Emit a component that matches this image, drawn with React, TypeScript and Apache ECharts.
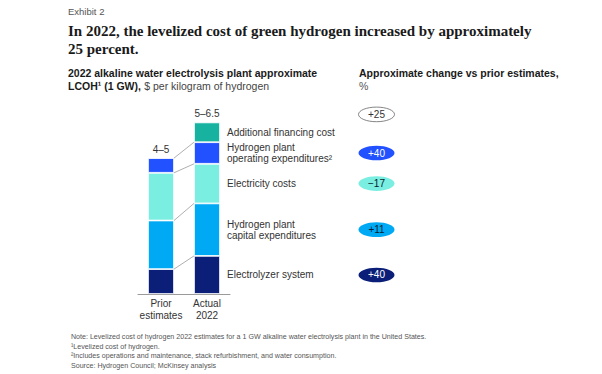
import React, { useEffect, useRef } from "react";
import * as echarts from "echarts";

const categories = ["Prior\nestimates", "Actual\n2022"];
const segmentNames = [
  "Electrolyzer system",
  "Hydrogen plant\ncapital expenditures",
  "Electricity costs",
  "Hydrogen plant\noperating expenditures²",
  "Additional financing cost",
];
const priorValues: (number | null)[] = [0.83, 1.62, 1.59, 0.49, null];
const actualValues = [1.27, 1.75, 1.32, 0.72, 0.66];
const totalLabels = ["4–5", "5–6.5"];
const segmentChanges = ["+40", "+11", "−17", "+40"];
const totalChange = "+25";

const segColors = ["#0b1f78", "#00a9f4", "#7aeee1", "#2251ff", "#17b3a0"];
const pillText = ["#ffffff", "#051c2c", "#051c2c", "#ffffff"];

const SANS = "Liberation Sans, Arial, sans-serif";
const SERIF = "Liberation Serif, Times New Roman, serif";
const BAR_W = 26;

function cum(vals: (number | null)[], k: number) {
  let s = 0;
  for (let i = 0; i < k; i++) s += vals[i] || 0;
  return s;
}

export default function App() {
  const ref = useRef<HTMLDivElement>(null);
  useEffect(() => {
    if (!ref.current) return;
    const chart = echarts.init(ref.current, null, { renderer: "svg" });

    const barSeries = segmentNames.map((name, i) => ({
      type: "bar",
      name,
      stack: "lcoh",
      barWidth: BAR_W,
      itemStyle: { color: segColors[i], borderColor: "#ffffff", borderWidth: 0.8 },
      data: [
        priorValues[i],
        {
          value: actualValues[i],
          label: {
            show: true,
            position: "right",
            distance: 7,
            formatter: name,
            fontSize: 10,
            lineHeight: 11,
            color: "#333333",
            fontFamily: SANS,
          },
        },
      ],
    }));

    const connectors = [1, 2, 3, 4].map((k) => [cum(priorValues, k), cum(actualValues, k)]);
    const totals = [cum(priorValues, 5), cum(actualValues, 5)];
    const pillData = segmentChanges.map((c, i) => [
      cum(actualValues, i) + actualValues[i] / 2,
      i,
    ]);
    pillData.push([totals[1], -1]);

    const option: any = {
      animation: false,
      grid: { left: 138, width: 92, top: 114, height: 180 },
      xAxis: {
        type: "category",
        data: categories,
        axisLine: { lineStyle: { color: "#9a9a9a", width: 1 } },
        axisTick: { show: false },
        axisLabel: { interval: 0, fontSize: 10, lineHeight: 11.5, color: "#333333", margin: 4, fontFamily: SANS },
      },
      yAxis: { type: "value", min: 0, max: 6, show: false, splitLine: { show: false } },
      graphic: [
        { type: "text", left: 68, top: 6, style: { text: "Exhibit 2", fontSize: 9.5, fill: "#555555", fontFamily: SANS } },
        {
          type: "text",
          left: 68,
          top: 22,
          style: {
            text: "In 2022, the levelized cost of green hydrogen increased by approximately\n25 percent.",
            fontSize: 15,
            lineHeight: 18,
            fontWeight: "bold",
            fill: "#1a1a1a",
            fontFamily: SERIF,
          },
        },
        {
          type: "text",
          left: 68,
          top: 67,
          style: {
            text: "{b|2022 alkaline water electrolysis plant approximate}\n{b|LCOH¹ (1 GW),} {n|$ per kilogram of hydrogen}",
            rich: {
              b: { fontSize: 10.5, fontWeight: "bold", fill: "#1a1a1a", fontFamily: SANS, lineHeight: 13.5 },
              n: { fontSize: 10.5, fill: "#444444", fontFamily: SANS, lineHeight: 13.5 },
            },
          },
        },
        {
          type: "text",
          left: 359,
          top: 67,
          style: {
            text: "{b|Approximate change vs prior estimates,}\n{n|%}",
            rich: {
              b: { fontSize: 10.5, fontWeight: "bold", fill: "#1a1a1a", fontFamily: SANS, lineHeight: 13.5 },
              n: { fontSize: 10.5, fill: "#555555", fontFamily: SANS, lineHeight: 13.5 },
            },
          },
        },
        {
          type: "text",
          left: 71,
          top: 332,
          style: {
            text:
              "Note: Levelized cost of hydrogen 2022 estimates for a 1 GW alkaline water electrolysis plant in the United States.\n¹Levelized cost of hydrogen.\n²Includes operations and maintenance, stack refurbishment, and water consumption.\nSource: Hydrogen Council; McKinsey analysis",
            fontSize: 7.1,
            lineHeight: 9.7,
            fill: "#555555",
            fontFamily: SANS,
          },
        },
      ],
      series: [
        ...barSeries,
        {
          type: "custom",
          name: "connectors",
          data: connectors,
          silent: true,
          z: 1,
          renderItem: (params: any, api: any) => {
            const p = api.coord([0, api.value(0)]);
            const a = api.coord([1, api.value(1)]);
            return {
              type: "line",
              shape: { x1: p[0] + BAR_W / 2, y1: p[1], x2: a[0] - BAR_W / 2, y2: a[1] },
              style: { stroke: "#9a9a9a", lineWidth: 0.8 },
            };
          },
        },
        {
          type: "custom",
          name: "totals",
          data: totals.map((t, i) => [i, t]),
          silent: true,
          renderItem: (params: any, api: any) => {
            const c = api.coord([api.value(0), api.value(1)]);
            return {
              type: "text",
              style: {
                text: totalLabels[params.dataIndex],
                x: c[0],
                y: c[1] - 4,
                align: "center",
                verticalAlign: "bottom",
                fontSize: 10,
                fill: "#333333",
                fontFamily: SANS,
              },
            };
          },
        },
        {
          type: "custom",
          name: "pills",
          data: pillData,
          silent: true,
          clip: false,
          renderItem: (params: any, api: any) => {
            const idx = api.value(1);
            const c = api.coord([1, api.value(0)]);
            const cy = idx < 0 ? c[1] - 8 : c[1];
            const cx = 376.5;
            const isTotal = idx < 0;
            return {
              type: "group",
              children: [
                {
                  type: "ellipse",
                  shape: { cx, cy, rx: 18, ry: 7.3 },
                  style: isTotal
                    ? { fill: "#ffffff", stroke: "#666666", lineWidth: 0.8 }
                    : { fill: segColors[idx] },
                },
                {
                  type: "text",
                  style: {
                    text: isTotal ? totalChange : segmentChanges[idx],
                    x: cx,
                    y: cy,
                    align: "center",
                    verticalAlign: "middle",
                    fontSize: 10,
                    fill: isTotal ? "#333333" : pillText[idx],
                    fontFamily: SANS,
                  },
                },
              ],
            };
          },
        },
      ],
    };
    chart.setOption(option);
    return () => chart.dispose();
  }, []);
  return (
    <div
      ref={ref}
      style={{ position: "fixed", left: 0, top: 0, width: 602, height: 374, background: "#ffffff" }}
    />
  );
}
